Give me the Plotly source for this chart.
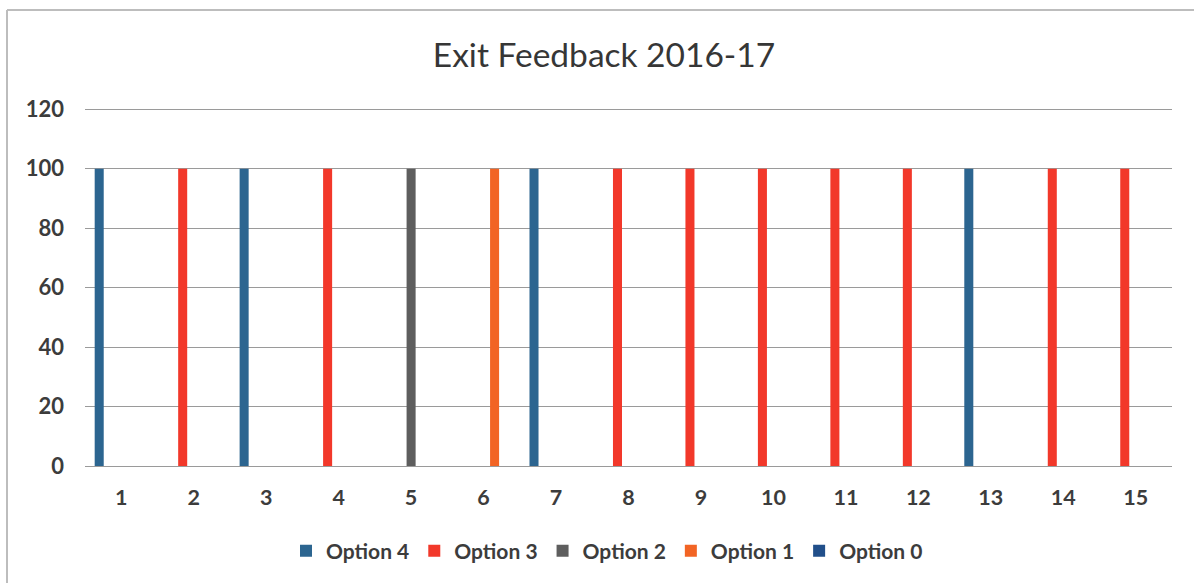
import plotly.graph_objects as go

categories = [str(i) for i in range(1, 16)]
series_names = ["Option 4", "Option 3", "Option 2", "Option 1", "Option 0"]
option4 = [100, None, 100, None, None, None, 100, None, None, None, None, None, 100, None, None]
option3 = [None, 100, None, 100, None, None, None, 100, 100, 100, 100, 100, None, 100, 100]
option2 = [None, None, None, None, 100, None, None, None, None, None, None, None, None, None, None]
option1 = [None, None, None, None, None, 100, None, None, None, None, None, None, None, None, None]
option0 = [None] * 15
series_values = [option4, option3, option2, option1, option0]
colors = ["#2C6590", "#F2382A", "#5E5E5E", "#F26424", "#214F8A"]
y_ticks = [0, 20, 40, 60, 80, 100, 120]

FONT = "Lato, 'Open Sans', sans-serif"

fig = go.Figure()
for name, vals, c in zip(series_names, series_values, colors):
    fig.add_trace(go.Bar(x=categories, y=vals, name=name, marker=dict(color=c, line=dict(width=0))))

W, H = 1194, 583
L, R, T, B = 85, 22, 108, 117
pw, ph = W - L - R, H - T - B

def px_x(x):
    return (x - L) / pw

def px_y(y):
    return (H - B - y) / ph

fig.update_layout(
    width=W, height=H,
    margin=dict(l=L, r=R, t=T, b=B),
    paper_bgcolor="white", plot_bgcolor="white",
    barmode="group", bargap=0.24, bargroupgap=0.18,
    title=dict(text="Exit Feedback 2016-17", x=604 / W, xanchor="center", y=1 - 55 / H, yanchor="middle",
               font=dict(family=FONT, size=33.5, color="#363636")),
    xaxis=dict(type="category", showgrid=False, showline=False, ticks="",
               tickfont=dict(family=FONT, size=21.5, color="#3C3C3C", weight="bold"), ticklabelstandoff=16),
    yaxis=dict(range=[0, 120.4], tickvals=y_ticks, showgrid=True, gridcolor="#9A9A9A", gridwidth=1,
               zeroline=True, zerolinecolor="#9A9A9A", zerolinewidth=1, showline=False, ticks="",
               tickfont=dict(family=FONT, size=22, color="#3C3C3C", weight="bold"), ticklabelstandoff=20),
    legend=dict(orientation="h", x=px_x(607), xanchor="center", y=px_y(551), yanchor="middle",
                font=dict(family=FONT, size=21, color="#3C3C3C", weight="bold"), itemwidth=30,
                traceorder="normal", itemclick=False),
    showlegend=True,
)

# chart frame
fig.add_shape(type="line", xref="paper", yref="paper", x0=px_x(7), x1=px_x(1194), y0=px_y(10), y1=px_y(10),
              line=dict(color="#BDBDBD", width=2))
fig.add_shape(type="line", xref="paper", yref="paper", x0=px_x(7), x1=px_x(7), y0=px_y(10), y1=px_y(583),
              line=dict(color="#BDBDBD", width=2))

fig.write_html("out.html", post_script="document.body.style.margin='0';",
               config={"displayModeBar": False})
